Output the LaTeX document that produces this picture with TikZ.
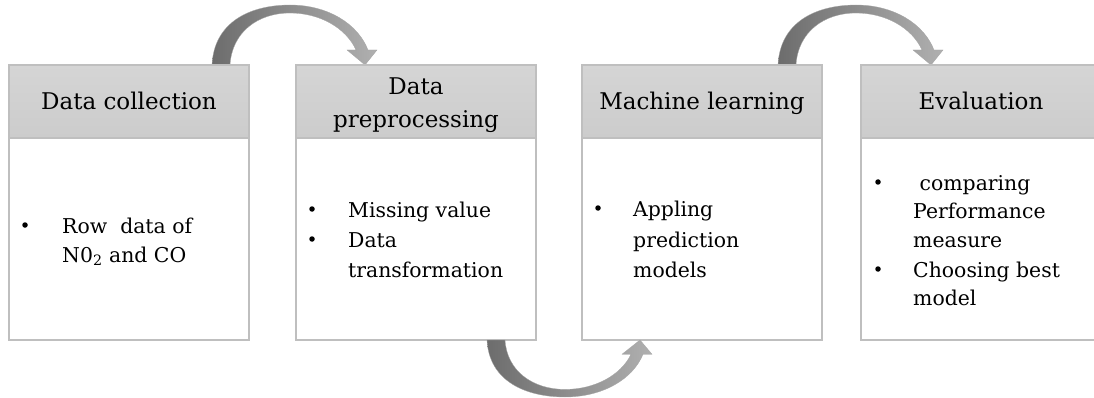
\documentclass[tikz,border=0pt]{standalone}
\usepackage{fontspec}
\setmainfont{DejaVu Serif}
\usetikzlibrary{calc}

\tikzset{
  % curved band arrow, drawn from the left corner of its tail
  bendarrow/.pic={
    \path[flowarrow]
      (0,0) .. controls (2,-43) and (38,-60) .. (78,-60)
            .. controls (116,-60) and (146,-41) .. (156,-15)
      -- (165,-15) -- (153,0) -- (135,-15) -- (144,-15)
            .. controls (134,-37) and (108,-52) .. (78,-52)
            .. controls (46,-52) and (20,-33) .. (18,0)
      -- cycle;
  }
}

\begin{document}
\begin{tikzpicture}[x=1pt,y=-1pt,
  hdr/.style={draw=gray!50, line width=1.2pt, top color=gray!33, bottom color=gray!40,
    minimum width=240pt, minimum height=73pt, inner sep=0pt, outer sep=0pt},
  bodybox/.style={draw=gray!50, line width=1.2pt, fill=white,
    minimum width=240pt, minimum height=202pt, inner sep=0pt, outer sep=0pt, anchor=north},
  htext/.style={anchor=base, inner sep=0pt, font=\fontsize{23}{33}\selectfont, text=black},
  btext/.style={anchor=base west, inner sep=0pt, font=\fontsize{20.4}{29}\selectfont, text=black},
  bulletmark/.style={circle, fill=black, inner sep=0pt, minimum size=5.5pt},
  flowarrow/.style={left color=gray!85!black, right color=gray!62, draw=gray!70, line width=0.3pt}
]
\useasboundingbox (0,0) rectangle (1094,398);

% stage boxes: grey header over a white body
\node[hdr] (h1) at (129,101.5) {};
\node[hdr] (h2) at (416,101.5) {};
\node[hdr] (h3) at (702,101.5) {};
\node[hdr] (h4) at (981,101.5) {};

% connecting arrows above the boxes
\pic at ([xshift=-37pt]h1.north east) {bendarrow};
\pic at ([xshift=-44pt]h3.north east) {bendarrow};

\node[bodybox] (k1) at (h1.south) {};
\node[bodybox] (k2) at (h2.south) {};
\node[bodybox] (k3) at (h3.south) {};
\node[bodybox] (k4) at (h4.south) {};
\node[hdr] (h1b) at (h1) {};
\node[hdr] (h2b) at (h2) {};
\node[hdr] (h3b) at (h3) {};
\node[hdr] (h4b) at (h4) {};

% connecting arrow below the boxes
\pic[yscale=-0.95] at ([xshift=-49pt]k2.south east) {bendarrow};

% header titles
\node[htext] (t1) at (129,110) {Data collection};
\node[htext] (t2a) at (416,95) {Data};
\node[htext] (t2b) at (416,128) {preprocessing};
\node[htext] (t3) at (702,110) {Machine learning};
\node[htext] (t4) at (981,110) {Evaluation};

% stage 1
\node[bulletmark] (d1) at (25,225) {};
\node[btext] (l1a) at (62,233) {Row\ \ data of};
\node[btext] (l1b) at (62,262) {N0\textsubscript{2} and CO};

% stage 2
\node[bulletmark] (d2a) at (312,209) {};
\node[bulletmark] (d2b) at (312,239) {};
\node[btext] (l2a) at (348,217) {Missing value};
\node[btext] (l2b) at (348,247) {Data};
\node[btext] (l2c) at (348,277) {transformation};

% stage 3
\node[bulletmark] (d3) at (598,208) {};
\node[btext] (l3a) at (633,216) {Appling};
\node[btext] (l3b) at (633,247) {prediction};
\node[btext] (l3c) at (633,277) {models};

% stage 4
\node[bulletmark] (d4a) at (878,182) {};
\node[bulletmark] (d4b) at (878,269) {};
\node[btext] (l4a) at (913,190) {\ comparing};
\node[btext] (l4b) at (913,218) {Performance};
\node[btext] (l4c) at (913,247) {measure};
\node[btext] (l4d) at (913,277) {Choosing best};
\node[btext] (l4e) at (913,305) {model};
\end{tikzpicture}
\end{document}
